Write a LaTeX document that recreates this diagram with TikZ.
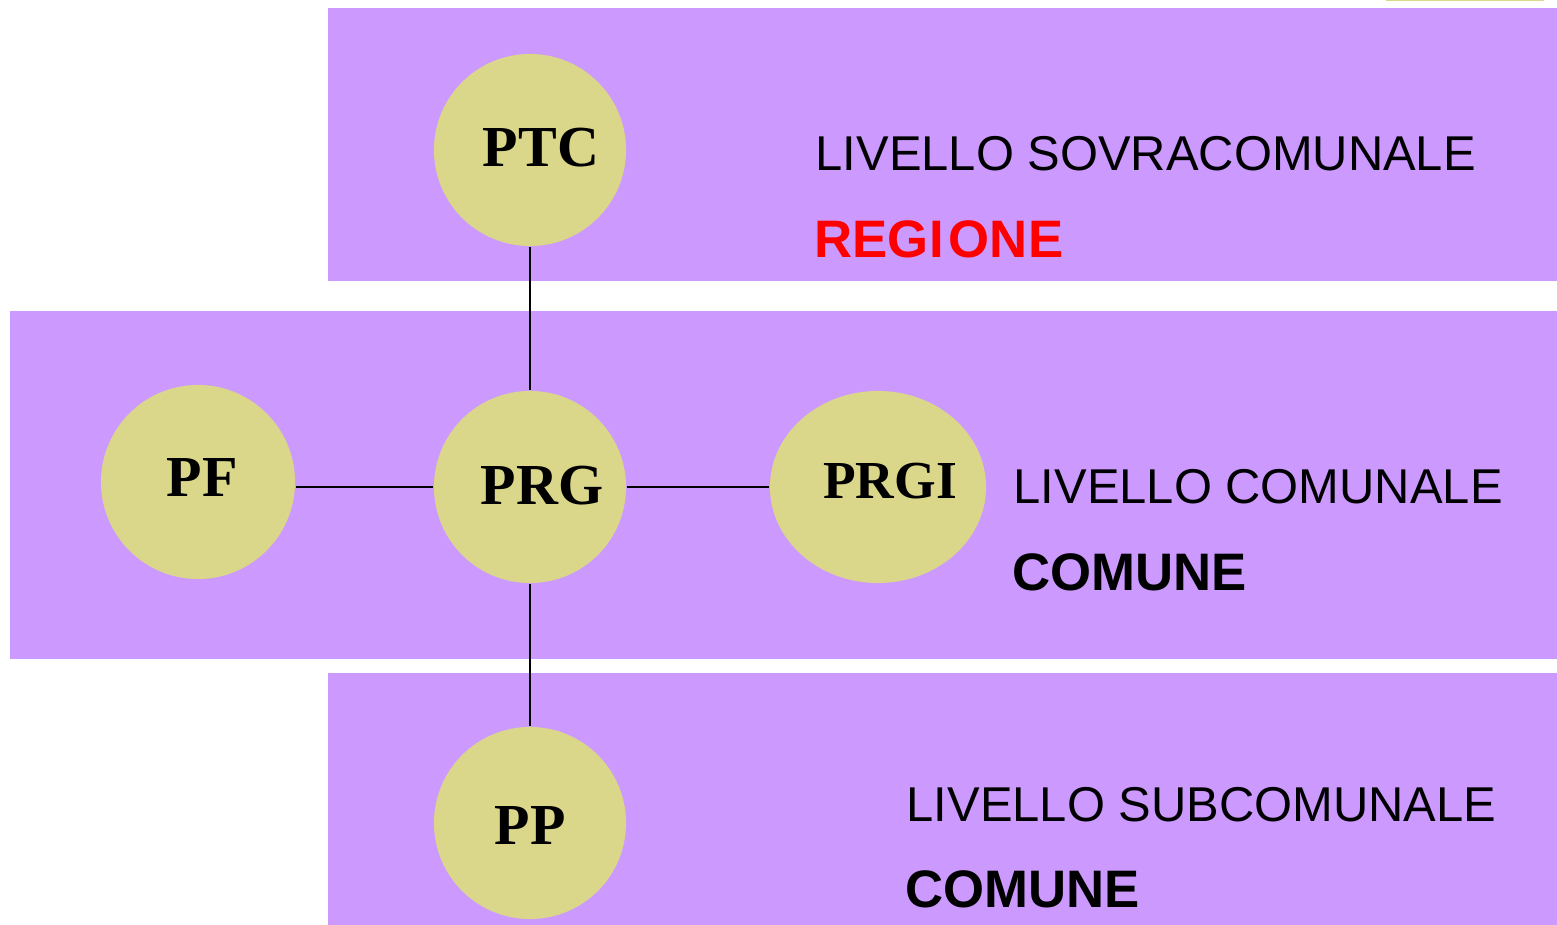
\documentclass[tikz,border=0pt]{standalone}
\usepackage{fontspec}
\setmainfont{Liberation Serif}
\newfontfamily\levelfont{Liberation Sans}
\usetikzlibrary{shapes.geometric}
\definecolor{bandviolet}{RGB}{204,153,255}
\definecolor{planyellow}{RGB}{218,214,138}
\begin{document}
\begin{tikzpicture}[x=0.01cm, y=-0.01cm,
		band/.style={fill=bandviolet, draw=none},
		plan/.style={circle, fill=planyellow, draw=none, minimum size=1.92cm, inner sep=0},
		plantext/.style={font=\fontsize{16.5}{18}\selectfont\bfseries, inner sep=0},
		leveltext/.style={anchor=base west, inner sep=0, font=\levelfont\fontsize{13.9}{16}\selectfont},
		entitytext/.style={leveltext, font=\levelfont\fontsize{15}{17}\selectfont\bfseries}]
		\useasboundingbox (0,0) rectangle (1557,925);
		\fill[planyellow] (1386,0) rectangle (1544,1.5);
		\fill[band] (328,8) rectangle (1557,281);
		\fill[band] (10,311) rectangle (1557,659);
		\fill[band] (328,673) rectangle (1557,925);
		\node[plan, label={[plantext, xshift=0.11cm, yshift=0.02cm]center:PTC}] (ptc) at (530,150) {};
		\node[plan, label={[plantext, xshift=0.12cm, yshift=0.01cm]center:PRG}] (prg) at (530,487) {};
		\node[plan, minimum size=1.94cm, label={[plantext, xshift=0.04cm, yshift=0.04cm]center:PF}] (pf) at (198,482) {};
		\node[plan, ellipse, minimum width=2.16cm, minimum height=1.92cm, label={[plantext, font=\fontsize{15.2}{17}\selectfont\bfseries, xshift=0.12cm, yshift=0.06cm]center:PRGI}] (prgi) at (878,487) {};
		\node[plan, label={[plantext, yshift=-0.03cm]center:PP}] (pp) at (530,823) {};
		\foreach \from/\to in {ptc/prg, prg/prgi, prg/pp}
		{
			\draw[line width=0.6pt] (\from) -- (\to);
		}
		\draw[line width=0.6pt] (prg.west) -- (prg.west -| pf.east);
		\node[leveltext] (sovra) at (815,171) {LIVELLO SOVRACOMUNALE};
		\node[entitytext, text=red] (regione) at (814,258) {REGI\kern0.1em ONE};
		\node[leveltext] (comunale) at (1013,504) {LIVELLO COMUNALE};
		\node[entitytext] (comune) at (1012,591) {COMUNE};
		\node[leveltext] (sub) at (906,822) {LIVELLO SUBCOMUNALE};
		\node[entitytext] (comunesub) at (905,908) {COMUNE};
\end{tikzpicture}
\end{document}
